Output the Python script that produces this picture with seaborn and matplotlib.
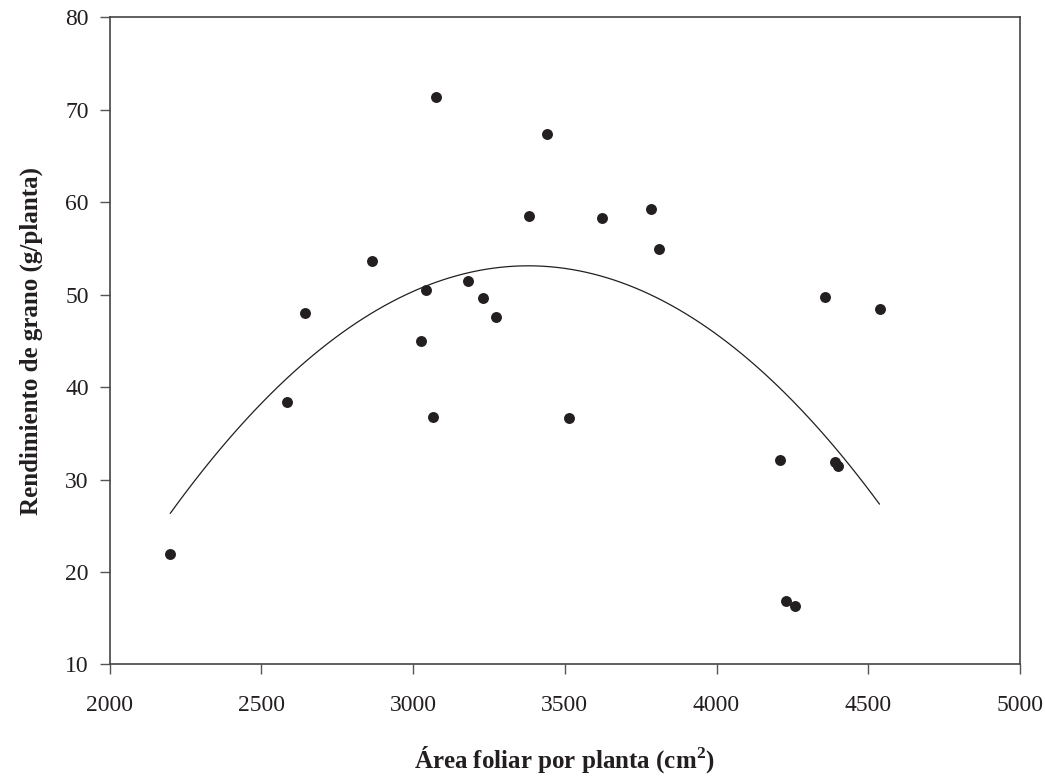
import numpy as np
import pandas as pd
import matplotlib
matplotlib.use("Agg")
import matplotlib.pyplot as plt
import seaborn as sns

# leaf area per plant (cm2) and grain yield (g/plant)
area = [2200, 2584, 2645, 2865, 3026, 3043, 3065, 3076, 3182, 3229, 3274, 3382,
        3440, 3513, 3623, 3785, 3812, 4210, 4230, 4259, 4359, 4389, 4401, 4537]
yield_g = [22.0, 38.4, 48.0, 53.6, 45.0, 50.5, 36.8, 71.4, 51.5, 49.6, 47.6, 58.5,
           67.4, 36.7, 58.3, 59.3, 54.9, 32.1, 16.9, 16.3, 49.8, 31.9, 31.5, 48.5]

x_ticks = [2000, 2500, 3000, 3500, 4000, 4500, 5000]
y_ticks = [10, 20, 30, 40, 50, 60, 70, 80]

df = pd.DataFrame({"area": area, "rend": yield_g})

sns.set_style("ticks")
plt.rcParams["font.family"] = ["Liberation Serif", "DejaVu Serif"]
plt.rcParams["mathtext.fontset"] = "custom"
plt.rcParams["mathtext.rm"] = "Liberation Serif"
plt.rcParams["mathtext.bf"] = "Liberation Serif:bold"

ink = "#231f20"
fig = plt.figure(figsize=(10.45, 7.76), dpi=100)
ax = fig.add_axes([0.1048, 0.1437, 0.8713, 0.834])

sns.regplot(data=df, x="area", y="rend", order=2, ci=None, truncate=True, ax=ax,
            scatter_kws={"s": 62, "color": ink, "linewidths": 0, "alpha": 1},
            line_kws={"color": ink, "linewidth": 0.9})

ax.set_xlim(2000, 5000)
ax.set_ylim(10, 80)
ax.set_xticks(x_ticks)
ax.set_yticks(y_ticks)
ax.tick_params(axis="both", direction="out", length=7, width=1, color="#555555",
               labelsize=17, labelcolor=ink)
ax.tick_params(axis="x", pad=15)
ax.tick_params(axis="y", pad=8)
for s in ax.spines.values():
    s.set_visible(True)
    s.set_color("#444444")
    s.set_linewidth(1.2)

ax.set_xlabel(r"Área foliar por planta (cm$^{\mathbf{2}}$)", fontsize=18,
              fontweight="bold", color=ink, labelpad=20)
ax.set_ylabel("Rendimiento de grano (g/planta)", fontsize=18, fontweight="bold",
              color=ink, labelpad=16)

fig.savefig("out.png", dpi=100)
